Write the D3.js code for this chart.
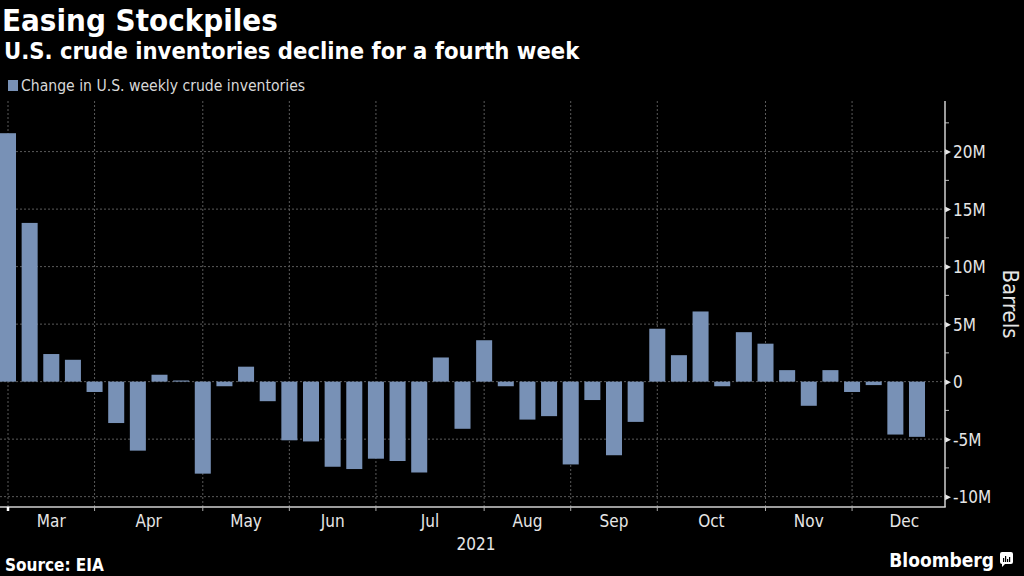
<!DOCTYPE html>
<html>
<head>
<meta charset="utf-8">
<script src="https://cdn.jsdelivr.net/npm/d3@7"></script>
<style>
  html, body { margin: 0; padding: 0; background: #000; }
  svg { display: block; }
  text { font-family: "DejaVu Sans Condensed", "DejaVu Sans", sans-serif; font-stretch: condensed; }
</style>
</head>
<body>
<svg id="chart" width="1024" height="576"></svg>
<script>
// week-ending dates, one bar per week
var weeks = [
  '2021-03-05', '2021-03-12', '2021-03-19', '2021-03-26',
  '2021-04-02', '2021-04-09', '2021-04-16', '2021-04-23', '2021-04-30',
  '2021-05-07', '2021-05-14', '2021-05-21', '2021-05-28',
  '2021-06-04', '2021-06-11', '2021-06-18', '2021-06-25',
  '2021-07-02', '2021-07-09', '2021-07-16', '2021-07-23', '2021-07-30',
  '2021-08-06', '2021-08-13', '2021-08-20', '2021-08-27',
  '2021-09-03', '2021-09-10', '2021-09-17', '2021-09-24',
  '2021-10-01', '2021-10-08', '2021-10-15', '2021-10-22', '2021-10-29',
  '2021-11-05', '2021-11-12', '2021-11-19', '2021-11-26',
  '2021-12-03', '2021-12-10', '2021-12-17', '2021-12-24'
];

// change in U.S. weekly crude inventories, millions of barrels
var changes = [
  21.6, 13.8, 2.4, 1.9,
  -0.9, -3.6, -6.0, 0.6, 0.1,
  -8.0, -0.4, 1.3, -1.7,
  -5.1, -5.2, -7.4, -7.6,
  -6.7, -6.9, -7.9, 2.1, -4.1,
  3.6, -0.4, -3.3, -3.0,
  -7.2, -1.6, -6.4, -3.5,
  4.6, 2.3, 6.1, -0.4, 4.3,
  3.3, 1.0, -2.1, 1.0,
  -0.9, -0.3, -4.6, -4.8
];

var monthLabels = ['Mar', 'Apr', 'May', 'Jun', 'Jul', 'Aug', 'Sep', 'Oct', 'Nov', 'Dec'];
var yTicks = [-10, -5, 0, 5, 10, 15, 20];
var yMinorTicks = [-7.5, -2.5, 2.5, 7.5, 12.5, 17.5, 22.5];

var svg = d3.select('#chart');

// background
svg.append('rect')
  .attr('width', 1024)
  .attr('height', 576)
  .attr('fill', '#000');

// plot frame
var plot = { left: 0, right: 945, top: 101, bottom: 507 };
var barColor = '#7891b6';

var x = d3.scalePoint()
  .domain(weeks)
  .range([8, 917]);

var barWidth = x.step() * 0.74;

var y = d3.scaleLinear()
  .domain([-10.9, 24.4])
  .range([plot.bottom, plot.top]);

// first week of each month gets a tick
var parse = d3.timeParse('%Y-%m-%d');
var monthStarts = [];
weeks.forEach(function (w, i) {
  var m = parse(w).getMonth();
  if (i === 0 || parse(weeks[i - 1]).getMonth() !== m) {
    monthStarts.push(i);
  }
});

// horizontal grid
svg.append('g')
  .selectAll('line')
  .data(yTicks)
  .join('line')
  .attr('x1', plot.left)
  .attr('x2', plot.right)
  .attr('y1', function (d) { return y(d); })
  .attr('y2', function (d) { return y(d); })
  .attr('stroke', '#5a5a5a')
  .attr('stroke-width', 1)
  .attr('stroke-dasharray', '2,2');

// vertical grid
svg.append('g')
  .selectAll('line')
  .data(monthStarts)
  .join('line')
  .attr('x1', function (i) { return x(weeks[i]); })
  .attr('x2', function (i) { return x(weeks[i]); })
  .attr('y1', plot.top)
  .attr('y2', plot.bottom)
  .attr('stroke', '#5a5a5a')
  .attr('stroke-width', 1)
  .attr('stroke-dasharray', '2,2');

// bars
svg.append('g')
  .selectAll('rect')
  .data(changes)
  .join('rect')
  .attr('x', function (d, i) { return x(weeks[i]) - barWidth / 2; })
  .attr('y', function (d) { return y(Math.max(0, d)); })
  .attr('width', barWidth)
  .attr('height', function (d) { return Math.abs(y(d) - y(0)); })
  .attr('fill', barColor);

// right axis
var yAxis = d3.axisRight(y)
  .tickValues(yTicks)
  .tickSize(0)
  .tickPadding(8)
  .tickFormat(function (d) { return d === 0 ? '0' : d + 'M'; });

var yAxisG = svg.append('g')
  .attr('transform', 'translate(' + plot.right + ',0)')
  .call(yAxis);

yAxisG.select('.domain').remove();
yAxisG.selectAll('text')
  .attr('fill', '#e6e6e6')
  .style('font-size', '17px')
  .attr('dy', '0.36em');

// triangle markers on major ticks
yAxisG.selectAll('.tick')
  .append('path')
  .attr('d', 'M0,-3L6,0L0,3Z')
  .attr('fill', '#e6e6e6');

// minor ticks
yAxisG.append('g')
  .selectAll('line')
  .data(yMinorTicks)
  .join('line')
  .attr('x1', 0)
  .attr('x2', 4)
  .attr('y1', function (d) { return y(d); })
  .attr('y2', function (d) { return y(d); })
  .attr('stroke', '#bbb')
  .attr('stroke-width', 1);

// axis lines
svg.append('line')
  .attr('x1', plot.right)
  .attr('x2', plot.right)
  .attr('y1', plot.top)
  .attr('y2', plot.bottom)
  .attr('stroke', '#d0d0d0')
  .attr('stroke-width', 1.5);

svg.append('line')
  .attr('x1', plot.left)
  .attr('x2', plot.right + 0.75)
  .attr('y1', plot.bottom)
  .attr('y2', plot.bottom)
  .attr('stroke', '#d0d0d0')
  .attr('stroke-width', 1.5);

// month ticks
svg.append('g')
  .selectAll('line')
  .data(monthStarts)
  .join('line')
  .attr('x1', function (i) { return x(weeks[i]); })
  .attr('x2', function (i) { return x(weeks[i]); })
  .attr('y1', plot.bottom)
  .attr('y2', plot.bottom + 4)
  .attr('stroke', function (i, k) { return k === 0 ? '#fff' : '#aaa'; })
  .attr('stroke-width', function (i, k) { return k === 0 ? 2.5 : 1; });

// month labels, centred over each month's weeks
svg.append('g')
  .selectAll('text')
  .data(monthStarts)
  .join('text')
  .attr('x', function (i, k) {
    var last = k + 1 < monthStarts.length ? monthStarts[k + 1] - 1 : weeks.length - 1;
    var mid = (x(weeks[i]) + x(weeks[last]) + x.step()) / 2;
    // the last month runs past the final bar to the axis
    return k + 1 < monthStarts.length ? mid : mid + 9;
  })
  .attr('y', 527)
  .attr('text-anchor', 'middle')
  .attr('fill', '#e6e6e6')
  .style('font-size', '17px')
  .text(function (i, k) { return monthLabels[k]; });

svg.append('text')
  .attr('x', 476)
  .attr('y', 550)
  .attr('text-anchor', 'middle')
  .attr('fill', '#e6e6e6')
  .style('font-size', '17px')
  .text('2021');

// axis title
svg.append('text')
  .attr('transform', 'translate(1003,304) rotate(90)')
  .attr('text-anchor', 'middle')
  .attr('fill', '#e6e6e6')
  .style('font-size', '22px')
  .text('Barrels');

// titles
svg.append('text')
  .attr('x', 2)
  .attr('y', 31)
  .attr('fill', '#fff')
  .style('font-size', '31px')
  .style('font-weight', 'bold')
  .text('Easing Stockpiles');

svg.append('text')
  .attr('x', 4)
  .attr('y', 59)
  .attr('fill', '#fff')
  .style('font-size', '23.6px')
  .style('font-weight', 'bold')
  .text('U.S. crude inventories decline for a fourth week');

// legend
svg.append('rect')
  .attr('x', 8)
  .attr('y', 80)
  .attr('width', 10)
  .attr('height', 11)
  .attr('fill', barColor);

svg.append('text')
  .attr('x', 21)
  .attr('y', 91)
  .attr('fill', '#d8d8d8')
  .style('font-size', '15.6px')
  .text('Change in U.S. weekly crude inventories');

// footer
svg.append('text')
  .attr('x', 5)
  .attr('y', 571)
  .attr('fill', '#fff')
  .style('font-size', '17px')
  .style('font-weight', 'bold')
  .text('Source: EIA');

svg.append('text')
  .attr('x', 994)
  .attr('y', 567)
  .attr('text-anchor', 'end')
  .attr('fill', '#fff')
  .style('font-size', '19px')
  .style('font-weight', 'bold')
  .text('Bloomberg');

// little logo mark next to the wordmark
var logo = svg.append('g')
  .attr('transform', 'translate(1000,552)');

logo.append('path')
  .attr('d', 'M2,0H11Q13,0 13,2V10Q13,12 11,12H5L2,15V12Q0,12 0,10V2Q0,0 2,0Z')
  .attr('fill', '#fff');

logo.selectAll('rect')
  .data([4, 6, 3, 5])
  .join('rect')
  .attr('x', function (d, i) { return 3 + i * 2; })
  .attr('y', function (d) { return 10 - d; })
  .attr('width', 1.2)
  .attr('height', function (d) { return d; })
  .attr('fill', '#000');
</script>
</body>
</html>
